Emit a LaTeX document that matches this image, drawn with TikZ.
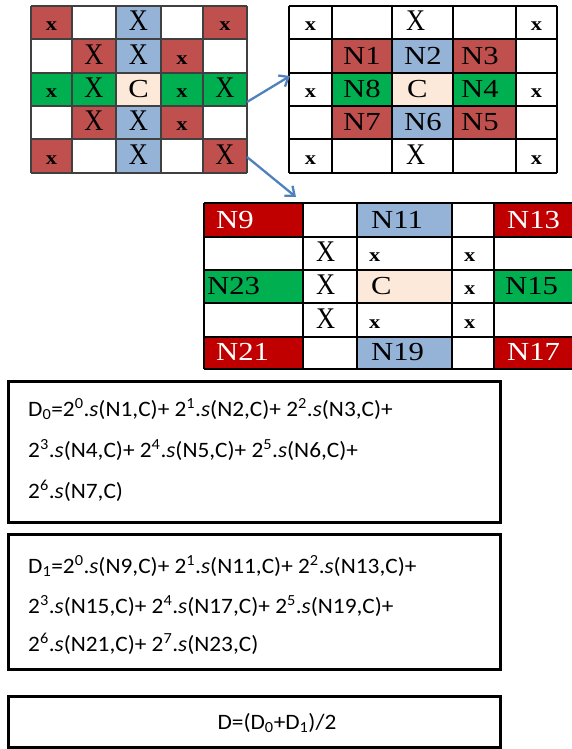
\documentclass[tikz,border=0pt]{standalone}
\usepackage{fontspec}
\setmainfont{Liberation Serif}
\newfontfamily\cellfont[FakeStretch=1.18]{Liberation Serif}
\newfontfamily\crossfont[FakeStretch=0.88]{Liberation Serif}
\newfontfamily\formfont[FakeStretch=1.06]{Carlito}
\usetikzlibrary{arrows.meta}

\definecolor{cred}{RGB}{192,80,77}
\definecolor{cdred}{RGB}{192,0,0}
\definecolor{cblue}{RGB}{149,179,215}
\definecolor{cgreen}{RGB}{0,176,80}
\definecolor{cpeach}{RGB}{253,233,217}
\definecolor{cline}{RGB}{64,64,64}
\definecolor{carrow}{RGB}{79,129,189}

\newcommand\cellfill[5]{\fill[#5] (#1,#2) rectangle (#3,#4);}

\tikzset{
  lbl/.style={inner sep=0pt, anchor=base west, font=\cellfont\fontsize{26}{26}\selectfont},
  clbl/.style={lbl, anchor=base},
  bigx/.style={font=\crossfont\fontsize{30}{30}\selectfont},
  smallx/.style={font=\cellfont\bfseries\fontsize{19}{19}\selectfont},
  gridA/.style={draw=cline, line width=1.3pt},
  gridB/.style={draw=black, line width=1.3pt},
  fbox/.style={draw=black, line width=3pt, inner sep=0pt, outer sep=0pt, anchor=north west},
  ftext/.style={inner sep=0pt, anchor=base west, font=\formfont\fontsize{22}{22}\selectfont},
  arr/.style={draw=carrow, line width=2.3pt, -{Straight Barb[length=8pt,width=13pt]}},
}

\newcommand\sx[1]{2\textsuperscript{#1}.\textit{s}}

\begin{document}
\begin{tikzpicture}[x=1pt,y=-1pt]
\useasboundingbox (0,0) rectangle (571,749);

% ---------- full neighbourhood grid ----------
\cellfill{31}{6}{72}{39}{cred}
\cellfill{116}{6}{161}{39}{cblue}
\cellfill{203}{6}{247}{39}{cred}
\cellfill{72}{39}{116}{73}{cred}
\cellfill{116}{39}{161}{73}{cblue}
\cellfill{161}{39}{203}{73}{cred}
\cellfill{31}{73}{116}{106}{cgreen}
\cellfill{116}{73}{161}{106}{cpeach}
\cellfill{161}{73}{247}{106}{cgreen}
\cellfill{72}{106}{116}{139}{cred}
\cellfill{116}{106}{161}{139}{cblue}
\cellfill{161}{106}{203}{139}{cred}
\cellfill{31}{139}{72}{173}{cred}
\cellfill{116}{139}{161}{173}{cblue}
\cellfill{203}{139}{247}{173}{cred}
\foreach \x in {31,72,116,161,203,247} \draw[gridA] (\x,6) -- (\x,173);
\foreach \y in {6,39,73,106,139,173} \draw[gridA] (31,\y) -- (247,\y);

\node[clbl,smallx] (la1) at (51.5,30.5) {x};
\node[clbl,bigx]   (la3) at (138.5,30.5) {X};
\node[clbl,smallx] (la5) at (225,30.5) {x};
\node[clbl,bigx]   (lb2) at (94,64.5) {X};
\node[clbl,bigx]   (lb3) at (138.5,64.5) {X};
\node[clbl,smallx] (lb4) at (182,64.5) {x};
\node[clbl,smallx] (lc1) at (51.5,97.5) {x};
\node[clbl,bigx]   (lc2) at (94,97.5) {X};
\node[clbl]        (lc3) at (138.5,97.5) {C};
\node[clbl,smallx] (lc4) at (182,97.5) {x};
\node[clbl,bigx]   (lc5) at (225,97.5) {X};
\node[clbl,bigx]   (ld2) at (94,130.5) {X};
\node[clbl,bigx]   (ld3) at (138.5,130.5) {X};
\node[clbl,smallx] (ld4) at (182,130.5) {x};
\node[clbl,smallx] (le1) at (51.5,164.5) {x};
\node[clbl,bigx]   (le3) at (138.5,164.5) {X};
\node[clbl,bigx]   (le5) at (225,164.5) {X};

% ---------- inner ring: N1..N8 ----------
\cellfill{332}{39}{392}{73}{cred}
\cellfill{392}{39}{453}{73}{cblue}
\cellfill{453}{39}{516}{73}{cred}
\cellfill{332}{73}{392}{106}{cgreen}
\cellfill{392}{73}{453}{106}{cpeach}
\cellfill{453}{73}{516}{106}{cgreen}
\cellfill{332}{106}{392}{139}{cred}
\cellfill{392}{106}{453}{139}{cblue}
\cellfill{453}{106}{516}{139}{cred}
\foreach \x in {289,332,392,453,516,557} \draw[gridB] (\x,6) -- (\x,173);
\foreach \y in {6,39,73,106,139,173} \draw[gridB] (289,\y) -- (557,\y);

\node[clbl,smallx] (ra1) at (310.5,30.5) {x};
\node[lbl,bigx]    (ra3) at (406,30.5) {X};
\node[clbl,smallx] (ra5) at (536.5,30.5) {x};
\node[lbl]         (n1) at (343,64.5) {N1};
\node[lbl]         (n2) at (404,64.5) {N2};
\node[lbl]         (n3) at (461,64.5) {N3};
\node[clbl,smallx] (rc1) at (310.5,97.5) {x};
\node[lbl]         (n8) at (343,97.5) {N8};
\node[lbl]         (rc3) at (407,97.5) {C};
\node[lbl]         (n4) at (461,97.5) {N4};
\node[clbl,smallx] (rc5) at (536.5,97.5) {x};
\node[lbl]         (n7) at (343,130.5) {N7};
\node[lbl]         (n6) at (404,130.5) {N6};
\node[lbl]         (n5) at (461,130.5) {N5};
\node[clbl,smallx] (re1) at (310.5,164.5) {x};
\node[lbl,bigx]    (re3) at (406,164.5) {X};
\node[clbl,smallx] (re5) at (536.5,164.5) {x};

% ---------- outer ring: N9..N23 ----------
\cellfill{204}{203}{303}{237}{cdred}
\cellfill{357}{203}{452}{237}{cblue}
\cellfill{494}{203}{573}{237}{cdred}
\cellfill{204}{270}{303}{303}{cgreen}
\cellfill{357}{270}{452}{303}{cpeach}
\cellfill{494}{270}{573}{303}{cgreen}
\cellfill{204}{337}{303}{369}{cdred}
\cellfill{357}{337}{452}{369}{cblue}
\cellfill{494}{337}{573}{369}{cdred}
\foreach \x in {204,303,357,452,494,573} \draw[gridB] (\x,203) -- (\x,369);
\foreach \y in {203,237,270,303,337,369} \draw[gridB] (204,\y) -- (573,\y);

\node[lbl,text=white] (n9)  at (216,228) {N9};
\node[lbl]            (n11) at (371,228) {N11};
\node[lbl,text=white] (n13) at (507,228) {N13};
\node[lbl,bigx]       (mb2) at (316,261) {X};
\node[lbl,smallx]     (mb3) at (369,261) {x};
\node[lbl,smallx]     (mb4) at (464,261) {x};
\node[lbl]            (n23) at (207,294) {N23};
\node[lbl,bigx]       (mc2) at (316,294) {X};
\node[lbl]            (mc3) at (371,294) {C};
\node[lbl,smallx]     (mc4) at (464,294) {x};
\node[lbl]            (n15) at (505,294) {N15};
\node[lbl,bigx]       (md2) at (316,328) {X};
\node[lbl,smallx]     (md3) at (369,328) {x};
\node[lbl,smallx]     (md4) at (464,328) {x};
\node[lbl,text=white] (n21) at (216,360) {N21};
\node[lbl]            (n19) at (371,360) {N19};
\node[lbl,text=white] (n17) at (507,360) {N17};

% ---------- arrows between the grids ----------
\coordinate (a1s) at (247,102);
\coordinate (a1e) at (290,76);
\coordinate (a2s) at (247,157);
\coordinate (a2e) at (296,197);
\draw[arr] (a1s) -- (a1e);
\draw[arr] (a2s) -- (a2e);

% ---------- formulas ----------
\node[fbox, minimum width=492pt, minimum height=141pt] (box0) at (8,381) {};
\node[ftext] (d0a) at (28,416) {D\textsubscript{0}=\sx{0}(N1,C)+ \sx{1}(N2,C)+ \sx{2}(N3,C)+};
\node[ftext] (d0b) at (28,457) {\sx{3}(N4,C)+ \sx{4}(N5,C)+ \sx{5}(N6,C)+};
\node[ftext] (d0c) at (28,498) {\sx{6}(N7,C)};

\node[fbox, minimum width=492pt, minimum height=135pt] (box1) at (8,534) {};
\node[ftext] (d1a) at (28,573) {D\textsubscript{1}=\sx{0}(N9,C)+ \sx{1}(N11,C)+ \sx{2}(N13,C)+};
\node[ftext] (d1b) at (28,613) {\sx{3}(N15,C)+ \sx{4}(N17,C)+ \sx{5}(N19,C)+};
\node[ftext] (d1c) at (28,651) {\sx{6}(N21,C)+ \sx{7}(N23,C)};

\node[fbox, minimum width=492pt, minimum height=51pt] (box2) at (8,696) {};
\node[ftext, anchor=base] (dd) at (277,729) {D=(D\textsubscript{0}+D\textsubscript{1})/2};
\end{tikzpicture}
\end{document}
